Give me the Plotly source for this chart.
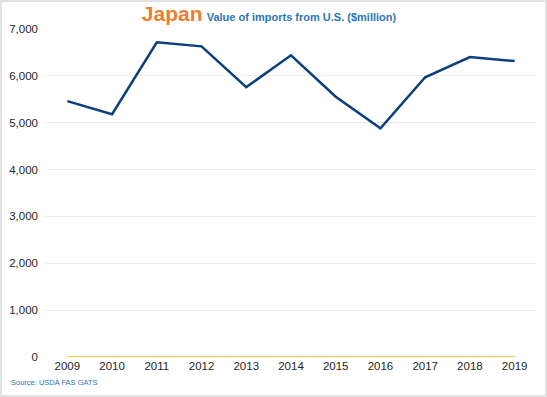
import plotly.graph_objects as go

years = ["2009", "2010", "2011", "2012", "2013", "2014", "2015", "2016", "2017", "2018", "2019"]
imports_us = [5460, 5180, 6715, 6630, 5760, 6440, 5555, 4880, 5970, 6400, 6315]
other_series = [0, 0, 0, 0, 0, 0, 0, 0, 0, 0, 0]
y_ticks = [0, 1000, 2000, 3000, 4000, 5000, 6000, 7000]
y_tick_labels = ["0", "1,000", "2,000", "3,000", "4,000", "5,000", "6,000", "7,000"]

W, H = 547, 397
ml, mr, mt, mb = 45, 10, 29, 40

fig = go.Figure()
fig.add_trace(go.Scatter(x=years, y=other_series, mode="lines",
                         line=dict(color="#F9C630", width=2), showlegend=False))
fig.add_trace(go.Scatter(x=years, y=imports_us, mode="lines",
                         line=dict(color="#0B3F7E", width=2.5), showlegend=False))

pw = W - ml - mr
ph = H - mt - mb
fig.add_shape(type="rect", xref="paper", yref="paper",
              x0=(-ml + 1) / pw, x1=(pw + mr - 1) / pw,
              y0=(-mb + 1) / ph, y1=(ph + mt - 1) / ph,
              line=dict(color="#D9D9D9", width=1.5), layer="below")

fig.update_layout(
    width=W, height=H,
    margin=dict(l=ml, r=mr, t=mt, b=mb),
    paper_bgcolor="white", plot_bgcolor="white",
    font=dict(family="Liberation Sans, Arial, sans-serif", size=11, color="#404040"),
    title=dict(
        text="<b><span style='font-size:21px;color:#ED7D31'>Japan</span> "
             "<span style='font-size:11px;color:#2E75B6'>Value of imports from U.S. ($million)</span></b>",
        x=(269) / W, xanchor="center", xref="container",
        y=1 - 16 / H, yanchor="middle", yref="container",
    ),
    xaxis=dict(type="category", range=[-0.5, 10.5], showgrid=False, showline=False,
               ticks="", tickfont=dict(size=11.5, color="#262626")),
    yaxis=dict(range=[0, 7000], tickvals=y_ticks, ticktext=y_tick_labels,
               showgrid=True, gridcolor="#EBEBEB", gridwidth=1, zeroline=False,
               showline=False, ticks="", ticklabelstandoff=6,
               tickfont=dict(size=11.5, color="#262626")),
)
fig.add_annotation(text="Source: USDA FAS GATS", xref="paper", yref="paper",
                   x=(9 - ml) / pw, y=(H - 382 - mb) / ph,
                   xanchor="left", yanchor="middle", showarrow=False,
                   font=dict(size=7.5, color="#2E75B6"))

fig.write_html("out.html", post_script="document.body.style.margin='0px';",
               config={"displayModeBar": False})
